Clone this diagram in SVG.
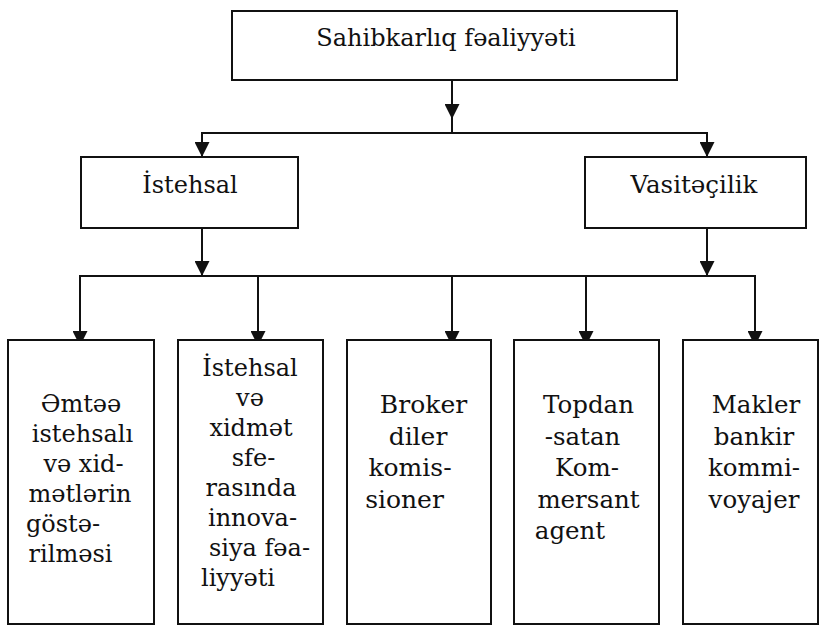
<svg xmlns="http://www.w3.org/2000/svg" width="825" height="633" viewBox="0 0 825 633">
  <style>
    .box { fill: #ffffff; stroke: #111111; stroke-width: 2; }
    .wire { fill: none; stroke: #111111; stroke-width: 2; }
  </style>
  <defs>
    <marker id="arrow" markerUnits="userSpaceOnUse" markerWidth="15" markerHeight="15"
            refX="15" refY="7.5" orient="auto">
      <path d="M0,0 L15,7.5 L0,15 Z" fill="#111111"/>
    </marker>
  </defs>
  <rect width="825" height="633" fill="#ffffff"/>

  <!-- connectors -->
  <g id="connectors">
    <path class="wire" d="M452,80 V119" marker-end="url(#arrow)"/>
    <path class="wire" d="M452,118 V133"/>
    <path class="wire" d="M202,133 H707"/>
    <path class="wire" d="M202,132 V157" marker-end="url(#arrow)"/>
    <path class="wire" d="M707,132 V157" marker-end="url(#arrow)"/>
    <path class="wire" d="M202,228 V276" marker-end="url(#arrow)"/>
    <path class="wire" d="M707,228 V276" marker-end="url(#arrow)"/>
    <path class="wire" d="M80,276 H755"/>
    <path class="wire" d="M80,275 V346" marker-end="url(#arrow)"/>
    <path class="wire" d="M258,275 V346" marker-end="url(#arrow)"/>
    <path class="wire" d="M452,275 V346" marker-end="url(#arrow)"/>
    <path class="wire" d="M586,275 V346" marker-end="url(#arrow)"/>
    <path class="wire" d="M755,275 V346" marker-end="url(#arrow)"/>
  </g>

  <g id="root">
    <rect class="box" x="232" y="11" width="445" height="69"/>
    <text x="446" y="46" font-family="DejaVu Serif" font-size="24" text-anchor="middle" fill="#111">Sahibkarlıq fəaliyyəti</text>
  </g>

  <g id="istehsal">
    <rect class="box" x="81" y="157" width="217" height="71"/>
    <text x="190" y="193" font-family="DejaVu Serif" font-size="24" text-anchor="middle" fill="#111">İstehsal</text>
  </g>

  <g id="vasitecilik">
    <rect class="box" x="585" y="157" width="221" height="71"/>
    <text x="694" y="193" font-family="DejaVu Serif" font-size="24.5" text-anchor="middle" fill="#111">Vasitəçilik</text>
  </g>

  <g id="emtee" font-family="DejaVu Serif" font-size="24" text-anchor="middle" fill="#111">
    <rect class="box" x="8" y="340" width="146" height="284"/>
    <text x="81" y="412" font-family="DejaVu Serif">Əmtəə</text>
    <text x="82.5" y="442" font-family="DejaVu Serif">istehsalı</text>
    <text x="83.5" y="472" font-family="DejaVu Serif">və xid-</text>
    <text x="80" y="502" font-family="DejaVu Serif">mətlərin</text>
    <text x="63" y="532" font-family="DejaVu Serif">göstə-</text>
    <text x="70.5" y="562" font-family="DejaVu Serif">rilməsi</text>
  </g>

  <g id="innovasiya" font-family="DejaVu Serif" font-size="24" text-anchor="middle" fill="#111">
    <rect class="box" x="178" y="340" width="145" height="284"/>
    <text x="250" y="376" font-family="DejaVu Serif">İstehsal</text>
    <text x="250" y="406" font-family="DejaVu Serif">və</text>
    <text x="251" y="436" font-family="DejaVu Serif">xidmət</text>
    <text x="253.5" y="466" font-family="DejaVu Serif">sfe-</text>
    <text x="251" y="496" font-family="DejaVu Serif">rasında</text>
    <text x="252.5" y="526" font-family="DejaVu Serif">innova-</text>
    <text x="259.5" y="556" font-family="DejaVu Serif">siya fəa-</text>
    <text x="238" y="586" font-family="DejaVu Serif">liyyəti</text>
  </g>

  <g id="broker" font-family="DejaVu Serif" font-size="25" text-anchor="middle" fill="#111">
    <rect class="box" x="347" y="340" width="144" height="284"/>
    <text x="423.5" y="413" font-family="DejaVu Serif">Broker</text>
    <text x="418" y="444.5" font-family="DejaVu Serif">diler</text>
    <text x="410" y="476" font-family="DejaVu Serif">komis-</text>
    <text x="404.5" y="507.5" font-family="DejaVu Serif">sioner</text>
  </g>

  <g id="topdan" font-family="DejaVu Serif" font-size="24.5" text-anchor="middle" fill="#111">
    <rect class="box" x="514" y="340" width="145" height="284"/>
    <text x="588.5" y="413" font-family="DejaVu Serif">Topdan</text>
    <text x="582.5" y="444.5" font-family="DejaVu Serif">-satan</text>
    <text x="587" y="476" font-family="DejaVu Serif">Kom-</text>
    <text x="588.5" y="507.5" font-family="DejaVu Serif">mersant</text>
    <text x="570" y="539" font-family="DejaVu Serif">agent</text>
  </g>

  <g id="makler" font-family="DejaVu Serif" font-size="24.5" text-anchor="middle" fill="#111">
    <rect class="box" x="683" y="340" width="135" height="284"/>
    <text x="756" y="413" font-family="DejaVu Serif">Makler</text>
    <text x="754" y="444.5" font-family="DejaVu Serif">bankir</text>
    <text x="754" y="476" font-family="DejaVu Serif">kommi-</text>
    <text x="754" y="507.5" font-family="DejaVu Serif">voyajer</text>
  </g>
</svg>
